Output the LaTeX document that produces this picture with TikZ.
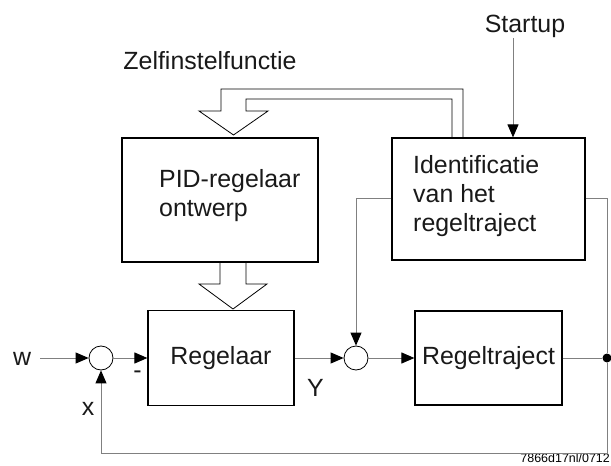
\documentclass[tikz,border=0pt]{standalone}
\usepackage{fontspec}
\setmainfont{Liberation Sans}
\usetikzlibrary{arrows.meta}

\begin{document}
\begin{tikzpicture}[
	x=1bp, y=-1bp,
	box/.style={
		draw, line width=1.2bp, rectangle, inner sep=0pt,
		font=\fontsize{25}{29}\selectfont, text=black!90
	},
	sum/.style={draw, line width=0.8bp, circle, fill=white, minimum size=24bp, inner sep=0pt},
	sig/.style={draw=black!50, line width=1bp, -{Triangle[length=13bp, width=11bp, color=black]}},
	wire/.style={draw=black!50, line width=1bp},
	hollow/.style={draw, line width=0.8bp, line join=miter},
	lbl/.style={font=\fontsize{25}{29}\selectfont, text=black!90, align=left, inner sep=0pt},
	]
	\useasboundingbox (0,0) rectangle (611,466);

	\node[box, minimum width=196bp, minimum height=124bp] (pid)   at (220,200)   {};
	\node[box, minimum width=193bp, minimum height=122bp] (ident) at (488.5,199) {};
	\node[box, minimum width=146bp, minimum height=95bp]  (reg)   at (221,358)   {Regelaar};
	\node[box, minimum width=147bp, minimum height=94bp]  (traj)  at (488.5,358) {Regeltraject};

	\node[lbl, anchor=west] (pidtxt)   at (159,196) {PID-regelaar\\ontwerp};
	\node[lbl, anchor=west] (identtxt) at (413,196) {Identificatie\\van het\\regeltraject};

	\node[sum] (sum1) at (101,358) {};
	\node[sum] (sum2) at (356,358) {};
	\node[circle, fill, inner sep=0pt, minimum size=9bp] (tap) at (607,358) {};

	\node[lbl] (w)       at (22,359)   {w};
	\node[lbl] (x)       at (88,409)   {x};
	\node[lbl] (min)     at (137.5,375) {-};
	\node[lbl] (y)       at (315.5,388) {Y};
	\node[lbl] (zelf)    at (210,60.5) {Zelfinstelfunctie};
	\node[lbl] (startup) at (525,26.5) {Startup};
	\node[font=\fontsize{12.5}{14}\selectfont, anchor=base east, inner sep=0pt] (code) at (610,462) {7866d17nl/0712};

	% signal path
	\coordinate (in) at (40,358);
	\coordinate (fbr) at (607,453);
	\draw[sig] (in)   -- (sum1);
	\draw[sig] (sum1) -- (reg);
	\draw[sig] (reg)  -- (sum2);
	\draw[sig] (sum2) -- (traj);
	\draw[wire] (traj) -- (tap);
	\draw[wire] (ident.east) -| (tap);
	\draw[sig] (ident.west) -| (sum2);
	\draw[sig] (tap) -- (fbr) -| (sum1);
	\draw[sig] ([xshift=-12bp]startup.south) -- ([xshift=-12bp]startup.south |- ident.north);

	% hollow arrows
	\draw[hollow] (463,138) -- (463,89) -- (221,89) -- (221,111) -- (199,111) -- (233.5,135)
		-- (268,111) -- (246,111) -- (246,99) -- (452,99) -- (452,138);
	\draw[hollow] (220,262) -- (220,284) -- (199,284) -- (233,309) -- (267,284) -- (246,284) -- (246,262);

\end{tikzpicture}
\end{document}
